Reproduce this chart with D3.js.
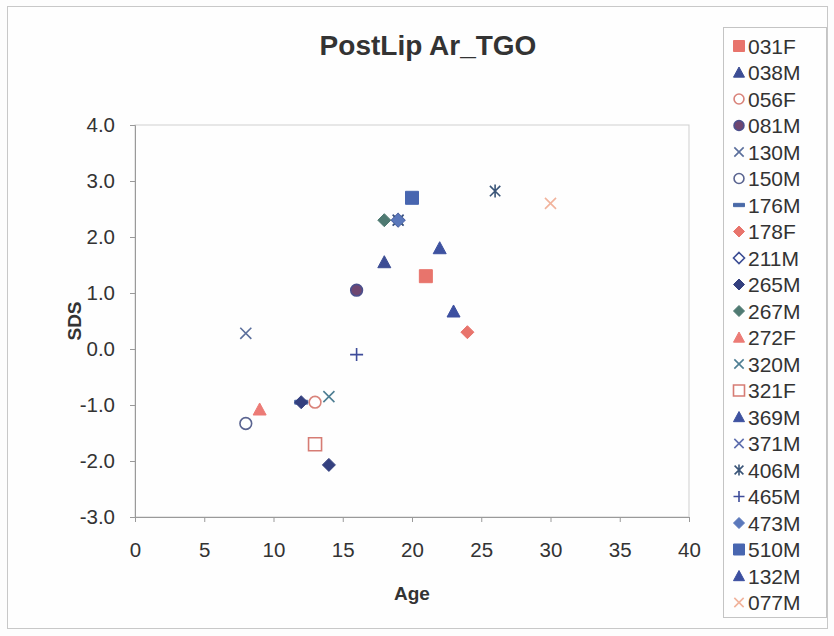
<!DOCTYPE html>
<html>
<head>
<meta charset="utf-8">
<script src="https://cdn.jsdelivr.net/npm/d3@7"></script>
<style>
  body { margin: 0; background: #fdfdfd; }
  text { font-family: Arial, "Liberation Sans", sans-serif; fill: #333; }
</style>
</head>
<body>
<div id="chart"></div>
<script>
// series (one per patient), with the age / SDS points
const seriesNames = ["031F", "038M", "056F", "081M", "130M", "150M", "176M", "178F", "211M", "265M", "267M",
    "272F", "320M", "321F", "369M", "371M", "406M", "465M", "473M", "510M", "132M", "077M"];
const seriesAges = [[21], [18], [13], [16], [8], [8], [12], [24], [19], [12, 14], [18],
    [9], [14], [13], [22], [19], [19, 26], [16], [19], [20], [23], [30]];
const seriesSDS = [[1.3], [1.55], [-0.95], [1.05], [0.28], [-1.33], [-0.95], [0.3], [2.3], [-0.95, -2.07], [2.3],
    [-1.08], [-0.85], [-1.7], [1.8], [2.3], [2.3, 2.82], [-0.1], [2.3], [2.7], [0.67], [2.6]];

const xTicks = [0, 5, 10, 15, 20, 25, 30, 35, 40];
const yTicks = [-3, -2, -1, 0, 1, 2, 3, 4];

// marker styles, same order as seriesNames
const markerTypes = ["square", "triangle", "circleOpen", "circle", "x", "circleOpen", "dash", "diamond", "diamondOpen", "diamond", "diamond",
    "triangle", "x", "squareOpen", "triangle", "x", "star", "plus", "diamond", "square", "triangle", "x"];
const markerColors = ["#e8746c", "#3c4d94", "#d9837a", "#6e4670", "#5b6f9c", "#5a6490", "#4a6aa8", "#e8746c", "#3c4d94", "#34407f", "#4f7a72",
    "#ec7b76", "#4e7e93", "#d67c74", "#3e52a0", "#5f6fae", "#3a5578", "#3e4c9a", "#5b78bb", "#4866b0", "#3c4fa0", "#f1b39c"];

const width = 834, height = 636;
const margin = {top: 125, right: 145, bottom: 119, left: 135};

const svg = d3.select("#chart").append("svg")
    .attr("width", width)
    .attr("height", height);

// chart frame
svg.append("rect")
    .attr("x", 7.5).attr("y", 6.5)
    .attr("width", 820).attr("height", 622)
    .attr("fill", "#fefefe")
    .attr("stroke", "#c8c8c8");

const x = d3.scaleLinear().domain([0, 40]).range([margin.left, width - margin.right]);
const y = d3.scaleLinear().domain([-3, 4]).range([height - margin.bottom, margin.top]);

// plot area border (top / right)
svg.append("rect")
    .attr("x", x(0)).attr("y", y(4))
    .attr("width", x(40) - x(0)).attr("height", y(-3) - y(4))
    .attr("fill", "none")
    .attr("stroke", "#cfcfcf");

function markerPath(type, s) {
    switch (type) {
        case "square":
        case "squareOpen":
            return `M${-s},${-s}H${s}V${s}H${-s}Z`;
        case "diamond":
        case "diamondOpen":
            return `M0,${-s}L${s},0L0,${s}L${-s},0Z`;
        case "triangle":
            return `M0,${-s}L${s},${s * 0.85}L${-s},${s * 0.85}Z`;
        case "circle":
        case "circleOpen": {
            let p = d3.path();
            p.arc(0, 0, s * 0.9, 0, 2 * Math.PI);
            return p.toString();
        }
        case "x":
            return `M${-s * 0.85},${-s * 0.85}L${s * 0.85},${s * 0.85}M${s * 0.85},${-s * 0.85}L${-s * 0.85},${s * 0.85}`;
        case "plus":
            return `M${-s},0H${s}M0,${-s}V${s}`;
        case "star":
            return `M${-s * 0.8},${-s * 0.8}L${s * 0.8},${s * 0.8}M${s * 0.8},${-s * 0.8}L${-s * 0.8},${s * 0.8}M0,${-s}V${s}`;
        case "dash":
            return `M${-s},${-s * 0.3}H${s}V${s * 0.3}H${-s}Z`;
    }
}

function styleMarker(sel, i) {
    let t = markerTypes[i], c = markerColors[i];
    let filled = ["square", "diamond", "triangle", "circle", "dash"].includes(t);
    let lined = ["x", "plus", "star"].includes(t);
    sel.attr("fill", filled ? c : (lined ? "none" : "#fff"))
        .attr("stroke", c)
        .attr("stroke-width", lined ? 1.6 : (filled ? 1 : 1.6));
    if (t === "circle") sel.attr("stroke", "#4b4f8c").attr("stroke-width", 1.6);
}

// axes (hyphen minus like the original, not the unicode minus)
let yAxis = d3.axisLeft(y).tickValues(yTicks).tickSize(5).tickPadding(15).tickFormat((d) => d.toFixed(1));
let gy = svg.append("g").attr("transform", `translate(${x(0)},0)`).call(yAxis);
let xAxis = d3.axisBottom(x).tickValues(xTicks).tickSize(5).tickPadding(20).tickFormat(d3.format("d"));
let gx = svg.append("g").attr("transform", `translate(0,${y(-3)})`).call(xAxis);

[gx, gy].forEach((g) => {
    g.select(".domain").attr("stroke", "#9a9a9a");
    g.selectAll(".tick line").attr("stroke", "#9a9a9a");
    g.selectAll(".tick text")
        .attr("fill", "#3a3a3a")
        .style("font-family", "Arial, 'Liberation Sans', sans-serif")
        .style("font-size", "20.5px");
});

// points
const points = svg.append("g");
seriesNames.forEach((name, i) => {
    seriesAges[i].forEach((age, j) => {
        points.append("path")
            .attr("d", markerPath(markerTypes[i], 6.5))
            .attr("transform", `translate(${x(age)},${y(seriesSDS[i][j])})`)
            .call(styleMarker, i);
    });
});

// titles
svg.append("text")
    .attr("x", 428).attr("y", 55)
    .attr("text-anchor", "middle")
    .style("font-size", "28px").style("font-weight", "bold")
    .attr("fill", "#222")
    .text("PostLip Ar_TGO");

svg.append("text")
    .attr("x", x(20)).attr("y", 600)
    .attr("text-anchor", "middle")
    .style("font-size", "19px").style("font-weight", "bold")
    .attr("fill", "#222")
    .text("Age");

svg.append("text")
    .attr("transform", `translate(81,${y(0.5)}) rotate(-90)`)
    .attr("text-anchor", "middle")
    .style("font-size", "19px").style("font-weight", "bold")
    .attr("fill", "#222")
    .text("SDS");

// legend
const legTop = 27, legStep = 26.5;
const legend = svg.append("g");
legend.append("rect")
    .attr("x", 723.5).attr("y", legTop + 0.5)
    .attr("width", 103).attr("height", 590)
    .attr("fill", "#fefefe")
    .attr("stroke", "#c4c4c4");

seriesNames.forEach((name, i) => {
    let cy = legTop + 19 + i * legStep;
    legend.append("path")
        .attr("d", markerPath(markerTypes[i], 5.5))
        .attr("transform", `translate(739,${cy})`)
        .call(styleMarker, i);
    legend.append("text")
        .attr("x", 748).attr("y", cy + 7.5)
        .style("font-size", "21px")
        .attr("fill", "#222")
        .text(name);
});
</script>
</body>
</html>
